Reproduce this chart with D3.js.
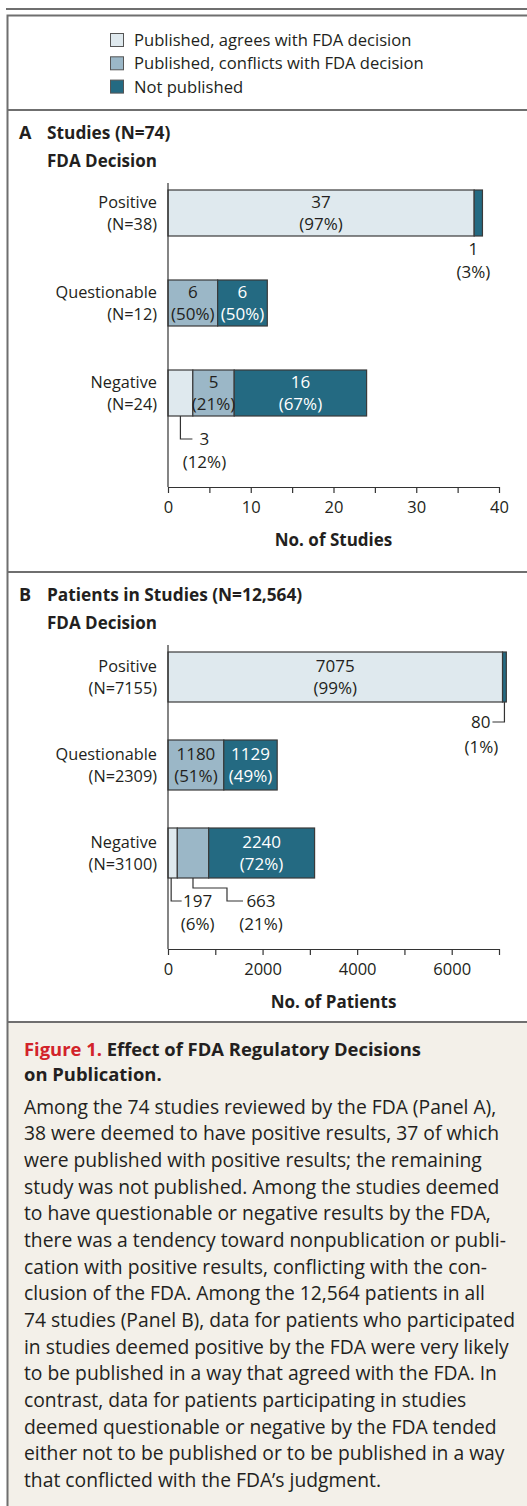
<!DOCTYPE html>
<meta charset="utf-8">
<style>
body { margin: 0; background: #fff; }
svg text { font-family: "Open Sans", Lato, sans-serif; fill: #231f20; }
.frame { stroke: #6f6f6f; stroke-width: 2; fill: none; }
.axis path, .axis line { stroke: #333; stroke-width: 1.2; }
.axis text { font-size: 16.5px; fill: #231f20; font-family: "Open Sans", sans-serif; }
.bold { font-weight: bold; }
</style>
<body>
<script src="https://d3js.org/d3.v7.min.js"></script>
<script>
// categories + legend
var categories = ["Positive", "Questionable", "Negative"];
var seriesNames = ["Published, agrees with FDA decision", "Published, conflicts with FDA decision", "Not published"];
var colors = ["#dfe9ee", "#9bb7c7", "#246a82"];

// panel A - studies
var studiesN = [38, 12, 24];
var studiesAgree = [37, 0, 3];
var studiesConflict = [0, 6, 5];
var studiesNotPub = [1, 6, 16];
var studiesAgreePct = [97, 0, 12];
var studiesConflictPct = [0, 50, 21];
var studiesNotPubPct = [3, 50, 67];
var studiesTicks = [0, 5, 10, 15, 20, 25, 30, 35, 40];
var studiesTickLabels = [0, 10, 20, 30, 40];

// panel B - patients
var patientsN = [7155, 2309, 3100];
var patientsAgree = [7075, 0, 197];
var patientsConflict = [0, 1180, 663];
var patientsNotPub = [80, 1129, 2240];
var patientsAgreePct = [99, 0, 6];
var patientsConflictPct = [0, 51, 21];
var patientsNotPubPct = [1, 49, 72];
var patientsTicks = [0, 1000, 2000, 3000, 4000, 5000, 6000, 7000];
var patientsTickLabels = [0, 2000, 4000, 6000];

var captionBody = [
  "Among the 74 studies reviewed by the FDA (Panel A),",
  "38 were deemed to have positive results, 37 of which",
  "were published with positive results; the remaining",
  "study was not published. Among the studies deemed",
  "to have questionable or negative results by the FDA,",
  "there was a tendency toward nonpublication or publi-",
  "cation with positive results, conflicting with the con-",
  "clusion of the FDA. Among the 12,564 patients in all",
  "74 studies (Panel B), data for patients who participated",
  "in studies deemed positive by the FDA were very likely",
  "to be published in a way that agreed with the FDA. In",
  "contrast, data for patients participating in studies",
  "deemed questionable or negative by the FDA tended",
  "either not to be published or to be published in a way",
  "that conflicted with the FDA\u2019s judgment."
];

var W = 527, H = 1506;
var FS = 17; // chart text size
var svg = d3.select("body").append("svg")
    .attr("width", W)
    .attr("height", H);

// caption background
svg.append("rect")
    .attr("x", 7).attr("y", 1022).attr("width", W - 7).attr("height", H - 1022)
    .attr("fill", "#f3f0e9");

// frame lines
svg.append("line").attr("class", "frame").attr("x1", 6).attr("x2", W).attr("y1", 9).attr("y2", 9);
svg.append("path").attr("class", "frame").attr("d", "M" + W + ",15.5H7.5V" + H);
[110, 572, 1022].forEach(function(y) {
  svg.append("line").attr("class", "frame").attr("x1", 7).attr("x2", W).attr("y1", y).attr("y2", y);
});

// legend
var legend = svg.append("g");
seriesNames.forEach(function(name, i) {
  var ly = 40 + i * 23.3;
  legend.append("rect")
      .attr("x", 110.5).attr("y", ly - 6.5).attr("width", 13).attr("height", 13)
      .attr("fill", colors[i]).attr("stroke", "#555").attr("stroke-width", 1);
  legend.append("text")
      .attr("x", 134).attr("y", ly + 6)
      .style("font-size", "16.6px")
      .text(name);
});

function panel(opt) {
  var g = svg.append("g");
  var x = d3.scaleLinear().domain(opt.domain).range([168, 499]);
  var y = d3.scaleBand().domain(categories)
      .range([opt.barTop, opt.barTop + 2 * opt.step + opt.bh])
      .paddingInner(1 - opt.bh / opt.step).paddingOuter(0);

  // headings
  g.append("text").attr("class", "bold").attr("x", 19).attr("y", opt.headY)
      .style("font-size", "18px").text(opt.letter);
  g.append("text").attr("class", "bold").attr("x", 47).attr("y", opt.headY)
      .style("font-size", "17.3px").text(opt.title);
  g.append("text").attr("class", "bold").attr("x", 47).attr("y", opt.headY + 28)
      .style("font-size", "17px").text("FDA Decision");

  // stacked segments
  var rows = categories.map(function(c, i) {
    var vals = [opt.agree[i], opt.conflict[i], opt.notPub[i]];
    var pcts = [opt.agreePct[i], opt.conflictPct[i], opt.notPubPct[i]];
    var x0 = 0;
    var segs = [];
    vals.forEach(function(v, k) {
      if (v > 0) segs.push({cat: c, row: i, k: k, v: v, pct: pcts[k], x0: x0, x1: x0 + v});
      x0 += v;
    });
    return segs;
  });
  var segs = [].concat.apply([], rows);

  g.selectAll("rect.seg").data(segs).enter().append("rect")
      .attr("class", "seg")
      .attr("x", function(d) { return x(d.x0); })
      .attr("y", function(d) { return y(d.cat); })
      .attr("width", function(d) { return x(d.x1) - x(d.x0); })
      .attr("height", y.bandwidth())
      .attr("fill", function(d) { return colors[d.k]; })
      .attr("stroke", "#3a3a3a").attr("stroke-width", 1.2);

  // labels inside wide segments
  var inside = segs.filter(function(d) { return x(d.x1) - x(d.x0) > 40; });
  inside.forEach(function(d) {
    var cx = (x(d.x0) + x(d.x1)) / 2;
    var cy = y(d.cat) + y.bandwidth() / 2;
    var col = d.k === 2 ? "#fff" : "#231f20";
    g.append("text").attr("x", cx).attr("y", cy - 5).attr("text-anchor", "middle")
        .style("font-size", FS + "px").style("fill", col).text(d.v);
    g.append("text").attr("x", cx).attr("y", cy + 17).attr("text-anchor", "middle")
        .style("font-size", FS + "px").style("fill", col).text("(" + d.pct + "%)");
  });

  // category labels
  categories.forEach(function(c, i) {
    var cy = y(c) + y.bandwidth() / 2;
    g.append("text").attr("x", 157).attr("y", cy - 5).attr("text-anchor", "end")
        .style("font-size", "16.3px").text(c);
    g.append("text").attr("x", 157).attr("y", cy + 17).attr("text-anchor", "end")
        .style("font-size", "16.3px").text("(N=" + opt.n[i] + ")");
  });

  // callouts for narrow segments
  var outside = segs.filter(function(d) { return x(d.x1) - x(d.x0) <= 40; });
  outside.forEach(function(d) { opt.callout(g, d, x, y); });

  // axes
  g.append("line").attr("x1", 168).attr("x2", 168)
      .attr("y1", opt.barTop - 7).attr("y2", opt.axisY)
      .attr("stroke", "#333").attr("stroke-width", 1.2);
  g.append("g").attr("class", "axis")
      .attr("transform", "translate(0," + opt.axisY + ")")
      .call(d3.axisBottom(x).tickValues(opt.ticks).tickSize(6).tickSizeOuter(0).tickPadding(5)
        .tickFormat(function(t) { return opt.tickLabels.indexOf(t) >= 0 ? t : ""; }))
      .selectAll("text").attr("dy", "0.9em");
  g.append("text").attr("class", "bold").attr("x", 333.5).attr("y", opt.axisY + 59)
      .attr("text-anchor", "middle").style("font-size", "17px").text(opt.axisTitle);
  return {x: x, y: y};
}

function leader(g, pts) {
  g.append("path").attr("d", d3.line()(pts))
      .attr("fill", "none").attr("stroke", "#333").attr("stroke-width", 1.2);
}
function twoLine(g, cx, cy, a, b, anchor) {
  g.append("text").attr("x", cx).attr("y", cy + 6).attr("text-anchor", anchor || "middle")
      .style("font-size", FS + "px").text(a);
  g.append("text").attr("x", cx).attr("y", cy + 28.5).attr("text-anchor", "middle")
      .style("font-size", FS + "px").text(b);
}

panel({
  letter: "A", title: "Studies (N=74)", headY: 139,
  domain: [0, 40], ticks: studiesTicks, tickLabels: studiesTickLabels,
  n: studiesN, agree: studiesAgree, conflict: studiesConflict, notPub: studiesNotPub,
  agreePct: studiesAgreePct, conflictPct: studiesConflictPct, notPubPct: studiesNotPubPct,
  barTop: 190, step: 90, bh: 46, axisY: 487, axisTitle: "No. of Studies",
  callout: function(g, d, x, y) {
    var cx = (x(d.x0) + x(d.x1)) / 2;
    var bottom = y(d.cat) + y.bandwidth();
    if (d.k === 2) {
      twoLine(g, cx - 5, bottom + 13, d.v, "(" + d.pct + "%)");
    } else {
      leader(g, [[cx, bottom], [cx, bottom + 23], [cx + 12, bottom + 23]]);
      twoLine(g, cx + 24, bottom + 23, d.v, "(" + d.pct + "%)");
    }
  }
});

panel({
  letter: "B", title: "Patients in Studies (N=12,564)", headY: 601,
  domain: [0, 7000], ticks: patientsTicks, tickLabels: patientsTickLabels,
  n: patientsN, agree: patientsAgree, conflict: patientsConflict, notPub: patientsNotPub,
  agreePct: patientsAgreePct, conflictPct: patientsConflictPct, notPubPct: patientsNotPubPct,
  barTop: 652, step: 88, bh: 50, axisY: 949, axisTitle: "No. of Patients",
  callout: function(g, d, x, y) {
    var cx = (x(d.x0) + x(d.x1)) / 2;
    var bottom = y(d.cat) + y.bandwidth();
    if (d.k === 2) {
      leader(g, [[cx, bottom], [cx, bottom + 20], [cx - 12, bottom + 20]]);
      g.append("text").attr("x", cx - 14).attr("y", bottom + 26).attr("text-anchor", "end")
          .style("font-size", FS + "px").text(d.v);
      g.append("text").attr("x", cx - 23).attr("y", bottom + 50.5).attr("text-anchor", "middle")
          .style("font-size", FS + "px").text("(" + d.pct + "%)");
    } else if (d.k === 0) {
      leader(g, [[cx - 1.5, bottom], [cx - 1.5, bottom + 23], [cx + 9, bottom + 23]]);
      twoLine(g, cx + 25, bottom + 23, d.v, "(" + d.pct + "%)");
    } else {
      leader(g, [[cx, bottom], [cx, bottom + 10], [cx + 34, bottom + 10], [cx + 34, bottom + 23], [cx + 50, bottom + 23]]);
      twoLine(g, cx + 68, bottom + 23, d.v, "(" + d.pct + "%)");
    }
  }
});

// caption
var cap = svg.append("text").attr("x", 24).attr("y", 1055.5).style("font-size", "18.4px").attr("class", "bold");
cap.append("tspan").style("fill", "#d2232a").text("Figure 1. ");
cap.append("tspan").text("Effect of FDA Regulatory Decisions");
svg.append("text").attr("class", "bold").attr("x", 24).attr("y", 1080.5)
    .style("font-size", "18.4px").text("on Publication.");

svg.selectAll("text.body").data(captionBody).enter().append("text")
    .attr("class", "body")
    .attr("x", 24)
    .attr("y", function(d, i) { return 1113.5 + i * 26.67; })
    .style("font-size", "19.3px")
    .text(function(d) { return d; });
</script>
</body>
